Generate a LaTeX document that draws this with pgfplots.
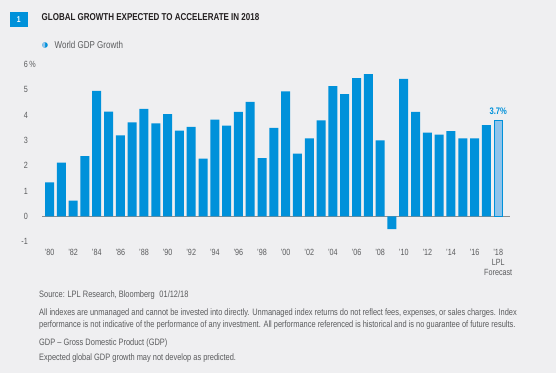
\documentclass[border=0pt]{standalone}
\usepackage{pgfplots}
\pgfplotsset{compat=1.18}
\usepackage{fontspec}
\setmainfont{Liberation Sans}[FakeStretch=0.80]
\definecolor{bg}{HTML}{EFEFF1}
\definecolor{lplblue}{HTML}{0091DA}
\definecolor{lpllight}{HTML}{8EC3EB}
\definecolor{txt}{HTML}{5A5B5D}
\definecolor{ttl}{HTML}{231F20}
\pgfplotstableread{
idx val
0 1.34
1 2.12
2 0.62
3 2.38
4 4.95
5 4.13
6 3.19
7 3.71
8 4.24
9 3.67
10 4.03
11 3.38
12 3.53
13 2.28
14 3.82
15 3.58
16 4.12
17 4.52
18 2.30
19 3.49
20 4.93
21 2.47
22 3.08
23 3.79
24 5.14
25 4.82
26 5.45
27 5.61
28 3.00
29 -0.51
30 5.43
31 4.12
32 3.30
33 3.22
34 3.36
35 3.08
36 3.08
37 3.60
}\gdp
\pgfplotstableread{
idx val
38 3.77
}\fcst
\begin{document}
\begin{tikzpicture}[x=1bp,y=1bp]
\fill[bg] (0,0) rectangle (556,-373);
% header
\fill[lplblue] (10,-11.5) rectangle (27.5,-27);
\node[text=white,font=\fontsize{8.5bp}{9bp}\selectfont\bfseries] at (18.7,-19.3) {1};
\node[anchor=west,text=ttl,inner sep=0pt,font=\fontsize{10bp}{11bp}\selectfont\bfseries] at (41.5,-17.5) {GLOBAL GROWTH EXPECTED TO ACCELERATE IN 2018};
% legend
\fill[lplblue] (45,-45) circle (2.8);
\fill[lpllight] (45,-45) ++(90:2.8) arc (90:270:2.8) -- cycle;
\node[anchor=west,text=txt,inner sep=0pt,font=\fontsize{10bp}{11bp}\selectfont] at (54.5,-45) {World GDP Growth};
\begin{axis}[
  at={(42bp,-241.6bp)}, anchor=south west,
  scale only axis, width=468bp, height=177.3bp,
  xmin=-0.636, xmax=39.0, ymin=-1, ymax=6,
  axis line style={draw=none}, major tick length=0pt,
  xtick={0,2,...,38},
  xticklabels={'80,'82,'84,'86,'88,'90,'92,'94,'96,'98,'00,'02,'04,'06,'08,'10,'12,'14,'16,{'18\\LPL\\Forecast}},
  ytick={-1,0,...,6},
  yticklabels={-1,0,1,2,3,4,5,{6\rlap{\,\%}}},
  xticklabel style={anchor=north,inner sep=0pt,yshift=-7.5bp,align=center,text=txt,font=\fontsize{9bp}{10bp}\selectfont},
  yticklabel style={anchor=east,inner sep=0pt,xshift=-14bp,text=txt,font=\fontsize{9bp}{10bp}\selectfont},
  clip=false,
]
\draw[txt!70, line width=0.6bp] (axis cs:-0.636,0) -- (axis cs:39.0,0);
\addplot[ybar, bar width=9bp, fill=lplblue, draw=none] table[x=idx,y=val]{\gdp};
\addplot[ybar, bar width=8.4bp, fill=lpllight, draw=lplblue, line width=0.6bp] table[x=idx,y=val]{\fcst};
\node[anchor=south,text=lplblue,font=\fontsize{9.5bp}{10bp}\selectfont\bfseries,inner sep=0pt] at (axis cs:38,4.0) {3.7\%};
\end{axis}
% footer
\begin{scope}[every node/.style={anchor=west,inner sep=0pt,text=txt,font=\fontsize{9.3bp}{10bp}\selectfont}]
\node at (39,-295) {Source: LPL Research, Bloomberg\enspace 01/12/18};
\node at (39,-313) {All indexes are unmanaged and cannot be invested into directly. Unmanaged index returns do not reflect fees, expenses, or sales charges. Index};
\node at (39,-325.5) {performance is not indicative of the performance of any investment. All performance referenced is historical and is no guarantee of future results.};
\node at (39,-343) {GDP -- Gross Domestic Product (GDP)};
\node at (39,-358) {Expected global GDP growth may not develop as predicted.};
\end{scope}
\end{tikzpicture}
\end{document}
